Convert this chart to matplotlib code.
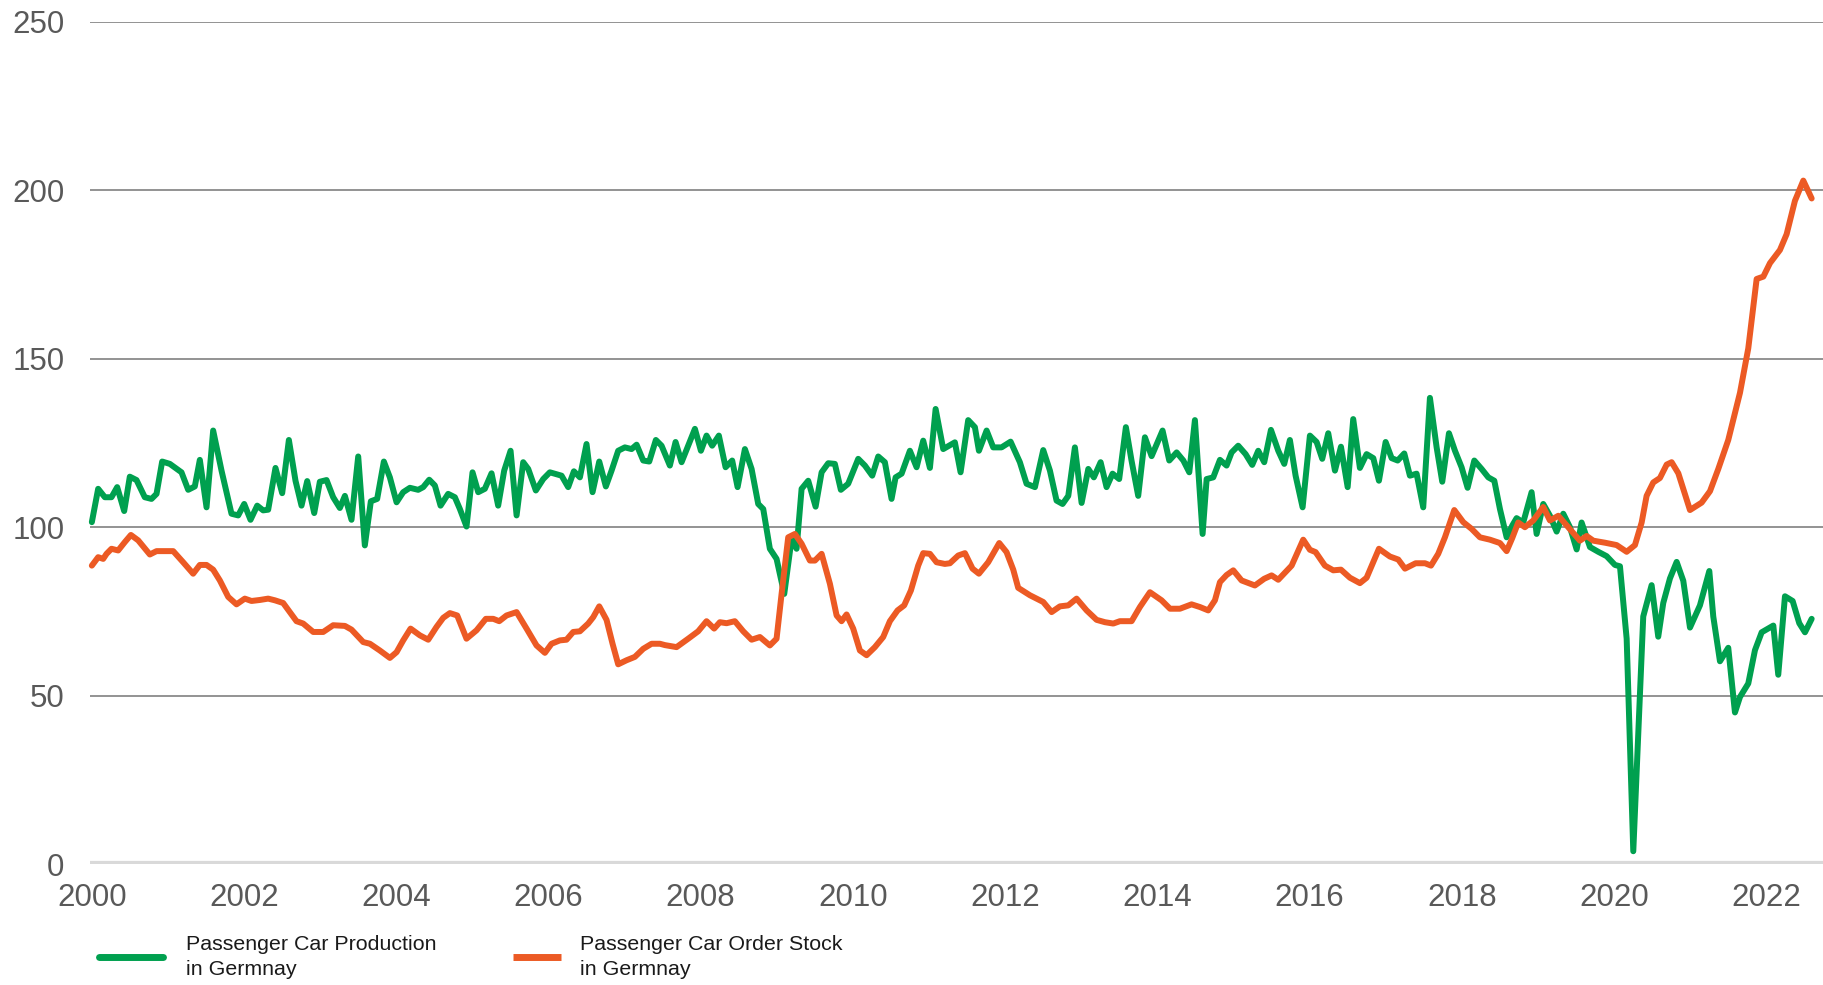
import matplotlib
matplotlib.use("Agg")
import matplotlib.pyplot as plt
from matplotlib.lines import Line2D

plt.rcParams['font.family'] = ['Liberation Sans', 'DejaVu Sans']

# ---------------- data ----------------
prod_years = [
    2000.000, 2000.083, 2000.171, 2000.258, 2000.333, 2000.425, 2000.499, 2000.587, 2000.696, 2000.784,
    2000.850, 2000.924, 2001.025, 2001.178, 2001.266, 2001.353, 2001.419, 2001.507, 2001.594, 2001.704,
    2001.835, 2001.923, 2002.002, 2002.085, 2002.173, 2002.251, 2002.317, 2002.413, 2002.501, 2002.589,
    2002.676, 2002.755, 2002.830, 2002.922, 2002.996, 2003.084, 2003.171, 2003.259, 2003.325, 2003.412,
    2003.500, 2003.587, 2003.666, 2003.749, 2003.837, 2003.916, 2004.004, 2004.091, 2004.179, 2004.288,
    2004.354, 2004.433, 2004.507, 2004.582, 2004.682, 2004.770, 2004.836, 2004.923, 2005.002, 2005.077,
    2005.164, 2005.252, 2005.339, 2005.418, 2005.502, 2005.581, 2005.668, 2005.734, 2005.834, 2005.931,
    2006.018, 2006.172, 2006.259, 2006.334, 2006.413, 2006.500, 2006.579, 2006.667, 2006.754, 2006.829,
    2006.916, 2007.004, 2007.092, 2007.158, 2007.245, 2007.324, 2007.411, 2007.486, 2007.595, 2007.670,
    2007.749, 2007.836, 2007.924, 2008.003, 2008.077, 2008.151, 2008.239, 2008.327, 2008.414, 2008.485,
    2008.581, 2008.669, 2008.756, 2008.822, 2008.909, 2008.997, 2009.098, 2009.194, 2009.260, 2009.326,
    2009.413, 2009.510, 2009.589, 2009.676, 2009.763, 2009.842, 2009.938, 2010.070, 2010.158, 2010.254,
    2010.333, 2010.420, 2010.508, 2010.561, 2010.640, 2010.749, 2010.837, 2010.924, 2011.012, 2011.087,
    2011.187, 2011.340, 2011.415, 2011.515, 2011.603, 2011.656, 2011.757, 2011.844, 2011.953, 2012.072,
    2012.194, 2012.282, 2012.392, 2012.501, 2012.589, 2012.676, 2012.755, 2012.830, 2012.917, 2013.005,
    2013.093, 2013.166, 2013.255, 2013.333, 2013.412, 2013.499, 2013.587, 2013.661, 2013.749, 2013.837,
    2013.925, 2014.069, 2014.157, 2014.254, 2014.342, 2014.420, 2014.494, 2014.595, 2014.648, 2014.735,
    2014.823, 2014.910, 2014.976, 2015.063, 2015.160, 2015.247, 2015.326, 2015.405, 2015.493, 2015.589,
    2015.668, 2015.742, 2015.817, 2015.909, 2016.005, 2016.093, 2016.167, 2016.246, 2016.334, 2016.413,
    2016.501, 2016.574, 2016.662, 2016.750, 2016.838, 2016.912, 2017.000, 2017.079, 2017.158, 2017.245,
    2017.319, 2017.407, 2017.494, 2017.582, 2017.670, 2017.744, 2017.832, 2017.911, 2017.998, 2018.077,
    2018.165, 2018.261, 2018.349, 2018.428, 2018.502, 2018.590, 2018.664, 2018.721, 2018.808, 2018.918,
    2018.984, 2019.071, 2019.159, 2019.247, 2019.334, 2019.422, 2019.510, 2019.575, 2019.685, 2019.794,
    2019.904, 2020.013, 2020.079, 2020.167, 2020.254, 2020.385, 2020.495, 2020.582, 2020.648, 2020.736,
    2020.824, 2020.911, 2020.999, 2021.130, 2021.253, 2021.305, 2021.393, 2021.502, 2021.590, 2021.656,
    2021.765, 2021.853, 2021.941, 2022.094, 2022.159, 2022.247, 2022.348, 2022.435, 2022.510, 2022.598,
]
prod_values = [
    101.5, 111.4, 108.9, 108.9, 111.9, 104.8, 115.0, 114.0, 108.9, 108.4,
    109.9, 119.5, 118.8, 116.3, 111.1, 112.1, 120.0, 105.9, 128.7, 116.8,
    104.0, 103.5, 106.9, 102.2, 106.4, 105.0, 105.2, 117.6, 110.1, 125.9,
    113.8, 106.4, 113.7, 104.2, 113.5, 114.0, 108.9, 105.7, 109.3, 102.2,
    121.0, 94.6, 107.7, 108.4, 119.5, 114.8, 107.4, 110.4, 111.7, 111.1,
    111.9, 114.1, 112.4, 106.4, 109.9, 108.9, 105.4, 100.2, 116.3, 110.4,
    111.4, 116.0, 106.4, 116.8, 122.7, 103.5, 119.3, 117.3, 110.9, 114.3,
    116.3, 115.3, 111.9, 116.6, 114.8, 124.7, 110.4, 119.5, 112.1, 116.8,
    122.7, 123.7, 123.2, 124.5, 119.8, 119.5, 125.9, 124.2, 118.3, 125.3,
    119.3, 124.2, 129.2, 122.7, 127.2, 124.2, 127.2, 117.8, 119.8, 111.9,
    123.2, 117.3, 106.9, 105.4, 93.6, 90.6, 80.2, 96.5, 93.6, 111.4,
    113.8, 106.1, 116.3, 119.0, 118.8, 111.1, 112.9, 120.3, 118.3, 115.3,
    121.0, 119.3, 108.4, 114.8, 115.9, 122.7, 117.8, 125.7, 117.6, 135.1,
    123.2, 125.2, 116.3, 131.8, 129.7, 122.7, 128.7, 123.7, 123.7, 125.4,
    119.3, 112.9, 111.9, 122.9, 116.8, 107.9, 106.9, 109.3, 123.7, 107.2,
    117.3, 114.8, 119.3, 111.9, 115.9, 114.3, 129.7, 119.8, 109.3, 126.7,
    121.1, 128.7, 119.8, 122.2, 119.8, 116.3, 131.8, 98.0, 114.3, 114.8,
    120.0, 118.3, 122.2, 124.2, 121.7, 118.5, 122.7, 119.3, 128.9, 122.7,
    118.8, 125.9, 115.3, 105.9, 127.2, 125.3, 120.3, 127.9, 116.8, 123.9,
    111.9, 132.1, 117.6, 121.7, 120.5, 113.8, 125.3, 120.5, 119.8, 121.9,
    115.3, 115.9, 105.9, 138.4, 123.7, 113.5, 127.9, 122.7, 117.8, 111.7,
    119.8, 117.3, 114.8, 113.8, 105.4, 97.0, 100.5, 102.7, 101.4, 110.4,
    98.0, 106.9, 103.4, 98.7, 104.0, 100.0, 93.4, 101.4, 94.1, 92.7,
    91.4, 88.8, 88.4, 66.9, 3.8, 73.5, 82.8, 67.5, 77.5, 84.8,
    89.7, 84.1, 70.2, 76.8, 87.0, 73.5, 60.2, 64.2, 45.0, 49.6,
    53.6, 63.5, 68.8, 70.8, 56.2, 79.5, 78.1, 71.5, 68.8, 72.8,
]

order_years = [
    2000.000, 2000.083, 2000.149, 2000.193, 2000.258, 2000.346, 2000.434, 2000.513, 2000.609, 2000.762,
    2000.850, 2001.069, 2001.200, 2001.331, 2001.419, 2001.507, 2001.594, 2001.682, 2001.792, 2001.901,
    2002.010, 2002.098, 2002.208, 2002.317, 2002.405, 2002.514, 2002.602, 2002.689, 2002.777, 2002.909,
    2003.040, 2003.171, 2003.325, 2003.412, 2003.566, 2003.654, 2003.784, 2003.916, 2004.004, 2004.091,
    2004.188, 2004.310, 2004.420, 2004.529, 2004.617, 2004.704, 2004.801, 2004.923, 2005.055, 2005.177,
    2005.274, 2005.353, 2005.449, 2005.581, 2005.712, 2005.843, 2005.953, 2006.040, 2006.150, 2006.237,
    2006.325, 2006.413, 2006.522, 2006.588, 2006.667, 2006.763, 2006.842, 2006.916, 2007.026, 2007.135,
    2007.245, 2007.355, 2007.464, 2007.530, 2007.683, 2007.836, 2007.967, 2008.077, 2008.177, 2008.252,
    2008.340, 2008.449, 2008.559, 2008.669, 2008.778, 2008.909, 2008.997, 2009.063, 2009.150, 2009.238,
    2009.326, 2009.435, 2009.501, 2009.589, 2009.698, 2009.786, 2009.851, 2009.917, 2010.004, 2010.092,
    2010.180, 2010.289, 2010.398, 2010.486, 2010.587, 2010.674, 2010.762, 2010.858, 2010.924, 2011.012,
    2011.099, 2011.208, 2011.275, 2011.384, 2011.472, 2011.572, 2011.656, 2011.778, 2011.923, 2012.019,
    2012.107, 2012.172, 2012.326, 2012.501, 2012.611, 2012.720, 2012.830, 2012.939, 2013.071, 2013.202,
    2013.312, 2013.421, 2013.508, 2013.662, 2013.771, 2013.903, 2014.056, 2014.167, 2014.297, 2014.450,
    2014.560, 2014.669, 2014.757, 2014.823, 2014.910, 2014.998, 2015.107, 2015.282, 2015.405, 2015.502,
    2015.589, 2015.765, 2015.917, 2016.005, 2016.080, 2016.202, 2016.312, 2016.413, 2016.531, 2016.662,
    2016.750, 2016.912, 2017.056, 2017.166, 2017.254, 2017.394, 2017.517, 2017.596, 2017.691, 2017.779,
    2017.902, 2018.020, 2018.130, 2018.239, 2018.370, 2018.502, 2018.590, 2018.664, 2018.742, 2018.830,
    2018.940, 2019.071, 2019.159, 2019.269, 2019.400, 2019.553, 2019.641, 2019.729, 2019.882, 2020.035,
    2020.167, 2020.276, 2020.364, 2020.429, 2020.517, 2020.604, 2020.693, 2020.758, 2020.846, 2020.999,
    2021.152, 2021.262, 2021.371, 2021.502, 2021.656, 2021.765, 2021.875, 2021.963, 2022.050, 2022.181,
    2022.269, 2022.378, 2022.488, 2022.598,
]
order_values = [
    88.6, 91.1, 90.6, 92.1, 93.6, 93.1, 95.6, 97.7, 96.1, 91.9,
    92.9, 92.9, 89.6, 86.2, 88.8, 88.8, 87.4, 84.2, 79.3, 77.1,
    78.8, 78.1, 78.4, 78.8, 78.3, 77.5, 74.8, 72.1, 71.4, 68.9,
    68.9, 70.9, 70.7, 69.6, 65.9, 65.4, 63.4, 61.2, 62.9, 66.4,
    69.9, 67.9, 66.6, 70.4, 73.1, 74.5, 73.8, 66.9, 69.4, 72.8,
    72.8, 72.1, 73.8, 74.8, 69.9, 64.9, 62.7, 65.4, 66.4, 66.6,
    68.9, 69.1, 71.4, 73.3, 76.5, 72.5, 65.4, 59.3, 60.5, 61.5,
    63.9, 65.4, 65.4, 65.0, 64.4, 66.9, 69.1, 72.1, 69.9, 71.8,
    71.5, 72.1, 69.1, 66.6, 67.4, 64.9, 66.9, 80.2, 97.0, 98.0,
    95.1, 90.1, 90.1, 92.1, 83.2, 73.8, 72.1, 74.1, 69.9, 63.4,
    62.0, 64.4, 67.4, 72.1, 75.3, 76.8, 81.2, 88.6, 92.3, 92.1,
    89.6, 89.1, 89.3, 91.6, 92.3, 87.7, 86.2, 89.6, 95.3, 92.6,
    87.4, 82.0, 79.8, 77.8, 74.8, 76.5, 76.8, 78.8, 75.3, 72.5,
    71.8, 71.4, 72.1, 72.1, 76.3, 80.7, 78.3, 75.8, 75.8, 77.1,
    76.3, 75.3, 78.3, 83.7, 85.8, 87.2, 84.2, 82.7, 84.7, 85.7,
    84.4, 88.6, 96.3, 93.3, 92.6, 88.6, 87.2, 87.4, 85.0, 83.4,
    85.0, 93.6, 91.3, 90.4, 87.7, 89.3, 89.3, 88.6, 92.1, 97.0,
    105.1, 101.5, 99.5, 97.0, 96.3, 95.3, 92.9, 96.8, 101.4, 100.0,
    102.0, 106.0, 102.0, 103.4, 100.0, 96.0, 97.4, 96.0, 95.4, 94.7,
    92.7, 94.7, 101.4, 109.3, 113.3, 114.6, 118.6, 119.3, 116.0, 105.1,
    107.3, 110.7, 117.3, 125.9, 139.9, 153.1, 173.7, 174.4, 178.4, 182.3,
    187.0, 196.9, 202.9, 197.6,
]

y_ticks = [0, 50, 100, 150, 200, 250]
x_ticks = [2000, 2002, 2004, 2006, 2008, 2010, 2012, 2014, 2016, 2018, 2020, 2022]
labels = ['Passenger Car Production\nin Germnay', 'Passenger Car Order Stock\nin Germnay']

GREEN = '#00A04F'
ORANGE = '#EC5A24'

# ---------------- figure ----------------
fig = plt.figure(figsize=(18.24, 9.85), dpi=100)
ax = fig.add_axes([0.0491, 0.1228, 0.9509, 0.8549])

for v in y_ticks[1:]:
    ax.axhline(v, color='#8a8a8a', lw=1.3, zorder=1)
ax.axhline(0, color='#d9d9d9', lw=4.5, zorder=1)

ax.plot(prod_years, prod_values, color=GREEN, lw=4.3, solid_joinstyle='round',
        solid_capstyle='round', clip_on=False, zorder=3)
ax.plot(order_years, order_values, color=ORANGE, lw=4.3, solid_joinstyle='round',
        solid_capstyle='round', clip_on=False, zorder=4)

ax.set_xlim(1999.97, 2022.76)
ax.set_ylim(0, 250)
ax.set_yticks(y_ticks)
ax.set_xticks(x_ticks)
ax.set_xticklabels([str(x) for x in x_ticks])
for s in ax.spines.values():
    s.set_visible(False)
ax.tick_params(axis='y', length=0, pad=18, labelsize=22.5, labelcolor='#595959')
ax.tick_params(axis='x', length=0, pad=14, labelsize=22.5, labelcolor='#595959')

# ---------------- legend ----------------
fs = 15.4
leg1 = fig.legend([Line2D([0], [0], color=GREEN, lw=5, solid_capstyle='round')], [labels[0]],
                  loc='upper left', bbox_to_anchor=(99 / 1824, 1 - 935 / 985),
                  frameon=False, fontsize=fs, handlelength=2.99, handletextpad=1.07,
                  borderpad=0, borderaxespad=0, labelcolor='#1a1a1a')
leg2 = fig.legend([Line2D([0], [0], color=ORANGE, lw=5, solid_capstyle='butt')], [labels[1]],
                  loc='upper left', bbox_to_anchor=(513 / 1824, 1 - 935 / 985),
                  frameon=False, fontsize=fs, handlelength=2.24, handletextpad=0.89,
                  borderpad=0, borderaxespad=0, labelcolor='#1a1a1a')
for leg in (leg1, leg2):
    for t in leg.get_texts():
        t.set_linespacing(1.4)

fig.savefig('out.png', dpi=100, facecolor='white')
